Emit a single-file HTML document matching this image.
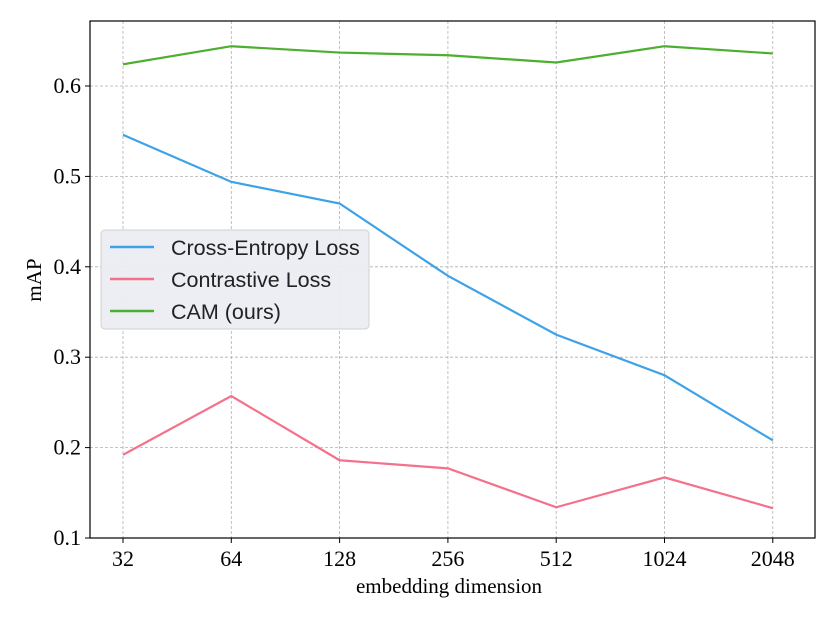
<!DOCTYPE html>
<html><head><meta charset="utf-8"><style>
body{margin:0;background:#fff;}
svg{display:block;}
</style></head><body>
<svg id="chart" width="830" height="623" xmlns="http://www.w3.org/2000/svg"></svg>
<script>
const categories = ["32","64","128","256","512","1024","2048"];
const crossEntropy = [0.546,0.494,0.470,0.390,0.325,0.280,0.208];
const contrastive = [0.192,0.257,0.186,0.177,0.134,0.167,0.133];
const cam = [0.624,0.644,0.637,0.634,0.626,0.644,0.636];
const yTicks = [0.1,0.2,0.3,0.4,0.5,0.6];
const seriesNames = ["Cross-Entropy Loss","Contrastive Loss","CAM (ours)"];

const svg = document.getElementById('chart');
const NS = 'http://www.w3.org/2000/svg';
const L=90,R=815,T=21,B=538;
const x0=123,dx=108.3;
function xs(i){return x0+i*dx;}
function ys(v){return 538-(v-0.1)*904;}
function mk(tag,attrs,parent){const e=document.createElementNS(NS,tag);for(const k in attrs)e.setAttribute(k,attrs[k]);(parent||svg).appendChild(e);return e;}

yTicks.forEach((v,i)=>{
  const g=mk('line',{x1:L,x2:R,y1:ys(v),y2:ys(v),stroke:'#b0b0b0','stroke-width':0.8,'stroke-dasharray':'3,2'});
  
  
  const t=mk('line',{x1:L-5,x2:L,y1:ys(v),y2:ys(v),stroke:'#000','stroke-width':1});
  
  
  const lb=mk('text',{x:L-9,y:ys(v)+7,'text-anchor':'end','font-family':'Liberation Serif, serif','font-size':22});
  lb.textContent=v.toFixed(1);
  
  
});
categories.forEach((c,i)=>{
  const g=mk('line',{x1:xs(i),x2:xs(i),y1:T,y2:B,stroke:'#b0b0b0','stroke-width':0.8,'stroke-dasharray':'3,2'});
  
  
  const t=mk('line',{x1:xs(i),x2:xs(i),y1:B,y2:B+5,stroke:'#000','stroke-width':1});
  
  
  const lb=mk('text',{x:xs(i),y:B+28,'text-anchor':'middle','font-family':'Liberation Serif, serif','font-size':22});
  lb.textContent=c;
  
  
});
const frame=mk('rect',{x:L,y:T,width:R-L,height:B-T,fill:'none',stroke:'#000','stroke-width':1.2});



const colors=['#3ea2e8','#f4718b','#4caf2f'];
[crossEntropy,contrastive,cam].forEach((s,k)=>{
  const p=mk('polyline',{points:s.map((v,i)=>xs(i)+','+ys(v)).join(' '),fill:'none',stroke:colors[k],'stroke-width':2.2});
  
  
});

const xt=mk('text',{x:449,y:593,'text-anchor':'middle','font-family':'Liberation Serif, serif','font-size':21});
xt.textContent='embedding dimension';


const yt=mk('text',{x:0,y:0,'text-anchor':'middle','font-family':'Liberation Serif, serif','font-size':21,transform:'translate(41,280) rotate(-90)'});
yt.textContent='mAP';



const lg=mk('g',{});


mk('rect',{x:101,y:230,width:268,height:99,rx:4,fill:'#ecedf2','fill-opacity':0.95,stroke:'#d0d0d0','stroke-width':1},lg);
seriesNames.forEach((n,k)=>{
  const y=247+k*32;
  const e=mk('g',{},lg);
  
  
  mk('line',{x1:110,x2:154,y1:y,y2:y,stroke:colors[k],'stroke-width':2.5},e);
  const t=mk('text',{x:171,y:y+8,'font-family':'Liberation Sans, sans-serif','font-size':21.5,fill:'#222'},e);
  t.textContent=n;
});
</script>
</body></html>
